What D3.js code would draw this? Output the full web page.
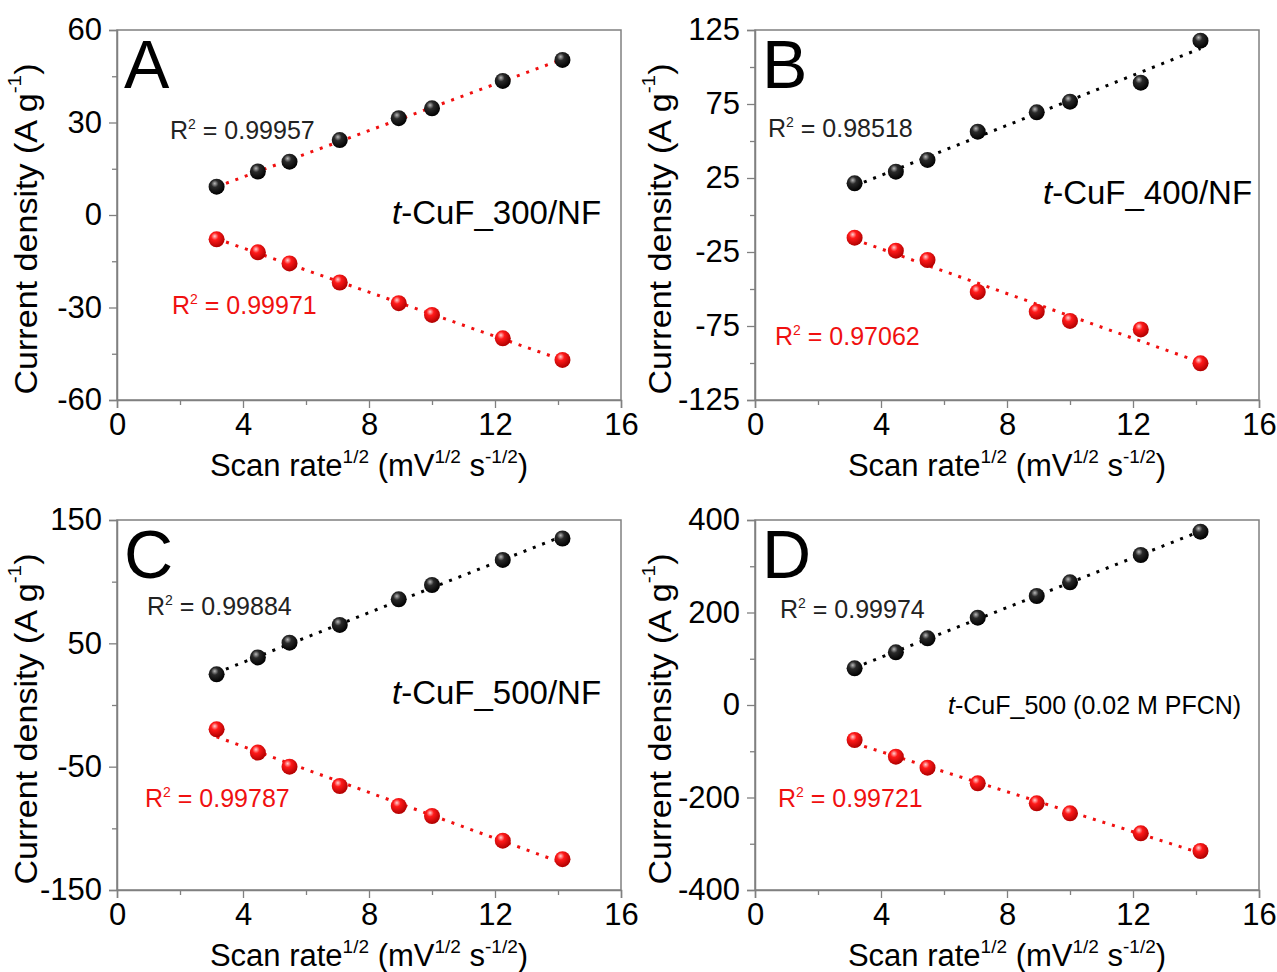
<!DOCTYPE html>
<html>
<head>
<meta charset="utf-8">
<script src="https://cdn.jsdelivr.net/npm/d3@7/dist/d3.min.js"></script>
<style>
  html, body { margin: 0; padding: 0; background: #fff; }
  svg { display: block; font-family: "Liberation Sans", Arial, sans-serif; }
</style>
</head>
<body>
<svg id="chart" width="1277" height="972"></svg>
<script>
// Square root of scan rate (10, 20, 30, 50, 80, 100, 150, 200 mV/s)
const sqrtScanRate = [3.162, 4.472, 5.477, 7.071, 8.944, 10.0, 12.247, 14.142];

// Anodic (positive) and cathodic (negative) current densities, A g^-1
const anodicA   = [9.2, 14.1, 17.3, 24.3, 31.4, 34.6, 43.5, 50.3];
const cathodicA = [-7.9, -12.1, -15.7, -21.9, -28.6, -32.4, -40.0, -47.0];
const anodicB   = [21.4, 29.3, 37.2, 56.3, 69.4, 76.6, 89.4, 117.8];
const cathodicB = [-15.3, -24.1, -30.4, -52.0, -65.3, -71.6, -77.3, -100.2];
const anodicC   = [24.9, 38.6, 50.5, 64.9, 85.7, 97.3, 117.6, 135.0];
const cathodicC = [-19.7, -38.6, -50.0, -65.7, -81.9, -90.0, -110.0, -125.0];
const anodicD   = [79.3, 113.9, 144.1, 188.8, 235.7, 265.2, 324.3, 374.8];
const cathodicD = [-75.7, -111.7, -135.5, -169.4, -212.6, -234.2, -277.5, -315.7];

const panelLetters = ["A", "B", "C", "D"];
const sampleNames  = ["t-CuF_300/NF", "t-CuF_400/NF", "t-CuF_500/NF", "t-CuF_500 (0.02 M PFCN)"];
const r2Anodic     = ["0.99957", "0.98518", "0.99884", "0.99974"];
const r2Cathodic   = ["0.99971", "0.97062", "0.99787", "0.99721"];
const yDomains     = [[-60, 60], [-125, 125], [-150, 150], [-400, 400]];
const yTickValues  = [[-60, -30, 0, 30, 60], [-125, -75, -25, 25, 75, 125], [-150, -50, 50, 150], [-400, -200, 0, 200, 400]];
const yMinorValues = [[-45, -15, 15, 45], [-100, -50, 0, 50, 100], [-100, 0, 100], [-300, -100, 100, 300]];
const xTickValues  = [0, 4, 8, 12, 16];
const xMinorValues = [2, 6, 10, 14];

const svg = d3.select("#chart");
const RED = "#f01010";
const frameColor = "#808080";
const plain = d => String(d);   // hyphen-minus labels

// Sphere-like marker shading
const defs = svg.append("defs");
function sphere(id, light, mid, dark) {
  const g = defs.append("radialGradient").attr("id", id)
    .attr("cx", "40%").attr("cy", "35%").attr("r", "65%").attr("fx", "38%").attr("fy", "30%");
  g.append("stop").attr("offset", "0%").attr("stop-color", light);
  g.append("stop").attr("offset", "35%").attr("stop-color", mid);
  g.append("stop").attr("offset", "100%").attr("stop-color", dark);
}
sphere("ballBlack", "#b8b8b8", "#2a2a2a", "#000");
sphere("ballRed", "#ffd0d0", "#ff1a1a", "#b00000");

// Least-squares line through a series
function fit(xs, ys) {
  const n = xs.length;
  const mx = d3.mean(xs), my = d3.mean(ys);
  let sxy = 0, sxx = 0;
  for (let i = 0; i < n; i++) { sxy += (xs[i] - mx) * (ys[i] - my); sxx += (xs[i] - mx) ** 2; }
  const b = sxy / sxx, a = my - b * mx;
  return x => a + b * x;
}

const panels = [
  { left: 117, top: 30,  right: 621,  bottom: 400, anodic: anodicA, cathodic: cathodicA, anodicFitColor: RED,
    titleOff: 89, r2a: [170, 139], r2c: [172, 314], name: [392, 224], nameSize: 33 },
  { left: 755, top: 30,  right: 1259, bottom: 400, anodic: anodicB, cathodic: cathodicB, anodicFitColor: "#000",
    titleOff: 93, r2a: [768, 137], r2c: [775, 345], name: [1043, 204], nameSize: 33 },
  { left: 117, top: 520, right: 621,  bottom: 890, anodic: anodicC, cathodic: cathodicC, anodicFitColor: "#000",
    titleOff: 89, r2a: [147, 615], r2c: [145, 807], name: [392, 704], nameSize: 33 },
  { left: 755, top: 520, right: 1259, bottom: 890, anodic: anodicD, cathodic: cathodicD, anodicFitColor: "#000",
    titleOff: 93, r2a: [780, 618], r2c: [778, 807], name: [948, 714], nameSize: 25 }
];

panels.forEach((p, i) => {
  const x = d3.scaleLinear().domain([0, 16]).range([p.left, p.right]);
  const y = d3.scaleLinear().domain(yDomains[i]).range([p.bottom, p.top]);
  const g = svg.append("g");

  // Frame
  g.append("rect").attr("x", p.left).attr("y", p.top)
    .attr("width", p.right - p.left).attr("height", p.bottom - p.top)
    .attr("fill", "none").attr("stroke", frameColor).attr("stroke-width", 1.5);

  // Bottom axis
  g.append("g").attr("transform", `translate(0,${p.bottom})`)
    .call(d3.axisBottom(x).tickValues(xTickValues).tickSize(8).tickPadding(5).tickFormat(plain));
  g.append("g").attr("transform", `translate(0,${p.bottom})`)
    .call(d3.axisBottom(x).tickValues(xMinorValues).tickSize(5).tickFormat(""))
    .call(s => s.select(".domain").remove());

  // Left axis
  g.append("g").attr("transform", `translate(${p.left},0)`)
    .call(d3.axisLeft(y).tickValues(yTickValues[i]).tickSize(8).tickPadding(7).tickFormat(plain));
  g.append("g").attr("transform", `translate(${p.left},0)`)
    .call(d3.axisLeft(y).tickValues(yMinorValues[i]).tickSize(5).tickFormat(""))
    .call(s => s.select(".domain").remove());

  g.selectAll(".domain").attr("stroke", frameColor).attr("stroke-width", 1.5);
  g.selectAll(".tick line").attr("stroke", frameColor).attr("stroke-width", 1.3);
  g.selectAll(".tick text").attr("fill", "#000").attr("font-size", 31)
    .attr("font-family", "'Liberation Sans', Arial, sans-serif");

  // Axis titles
  const xt = g.append("text").attr("x", (p.left + p.right) / 2).attr("y", p.bottom + 76)
    .attr("text-anchor", "middle").attr("font-size", 31).attr("fill", "#000");
  xt.append("tspan").text("Scan rate");
  xt.append("tspan").attr("dy", -13).attr("font-size", 19).text("1/2");
  xt.append("tspan").attr("dy", 13).text(" (mV");
  xt.append("tspan").attr("dy", -13).attr("font-size", 19).text("1/2");
  xt.append("tspan").attr("dy", 13).text(" s");
  xt.append("tspan").attr("dy", -13).attr("font-size", 19).text("-1/2");
  xt.append("tspan").attr("dy", 13).text(")");

  const yt = g.append("text")
    .attr("transform", `translate(${p.left - p.titleOff},${(p.top + p.bottom) / 2 + 14}) rotate(-90) scale(1.1,1)`)
    .attr("text-anchor", "middle").attr("dominant-baseline", "middle")
    .attr("font-size", 31).attr("fill", "#000");
  yt.append("tspan").text("Current density (A g");
  yt.append("tspan").attr("dy", -12).attr("font-size", 19).text("-1");
  yt.append("tspan").attr("dy", 12).text(")");

  // Panel letter
  g.append("text").attr("x", p.left + 7).attr("y", p.top + 58)
    .attr("font-size", 68).attr("fill", "#000").text(panelLetters[i]);

  // Fit lines
  const x0 = sqrtScanRate[0], x1 = sqrtScanRate[sqrtScanRate.length - 1];
  [[p.anodic, p.anodicFitColor], [p.cathodic, RED]].forEach(([ys, col]) => {
    const f = fit(sqrtScanRate, ys);
    g.append("line")
      .attr("x1", x(x0)).attr("y1", y(f(x0))).attr("x2", x(x1)).attr("y2", y(f(x1)))
      .attr("stroke", col).attr("stroke-width", 3).attr("stroke-dasharray", "3 7");
  });

  // Data points
  g.selectAll(".pa").data(p.anodic).join("circle")
    .attr("cx", (d, k) => x(sqrtScanRate[k])).attr("cy", d => y(d)).attr("r", 8)
    .attr("fill", "url(#ballBlack)");
  g.selectAll(".pc").data(p.cathodic).join("circle")
    .attr("cx", (d, k) => x(sqrtScanRate[k])).attr("cy", d => y(d)).attr("r", 8)
    .attr("fill", "url(#ballRed)");

  // R² annotations
  function r2Label(pos, val, col) {
    const t = g.append("text").attr("x", pos[0]).attr("y", pos[1]).attr("font-size", 25).attr("fill", col);
    t.append("tspan").text("R");
    t.append("tspan").attr("dy", -10).attr("font-size", 14).text("2");
    t.append("tspan").attr("dy", 10).text(" = " + val);
  }
  r2Label(p.r2a, r2Anodic[i], "#222");
  r2Label(p.r2c, r2Cathodic[i], RED);

  // Sample name, leading "t" italic
  const nm = sampleNames[i];
  const st = g.append("text").attr("x", p.name[0]).attr("y", p.name[1])
    .attr("font-size", p.nameSize).attr("fill", "#000");
  st.append("tspan").attr("font-style", "italic").text(nm.slice(0, 1));
  st.append("tspan").text(nm.slice(1));
});
</script>
</body>
</html>
